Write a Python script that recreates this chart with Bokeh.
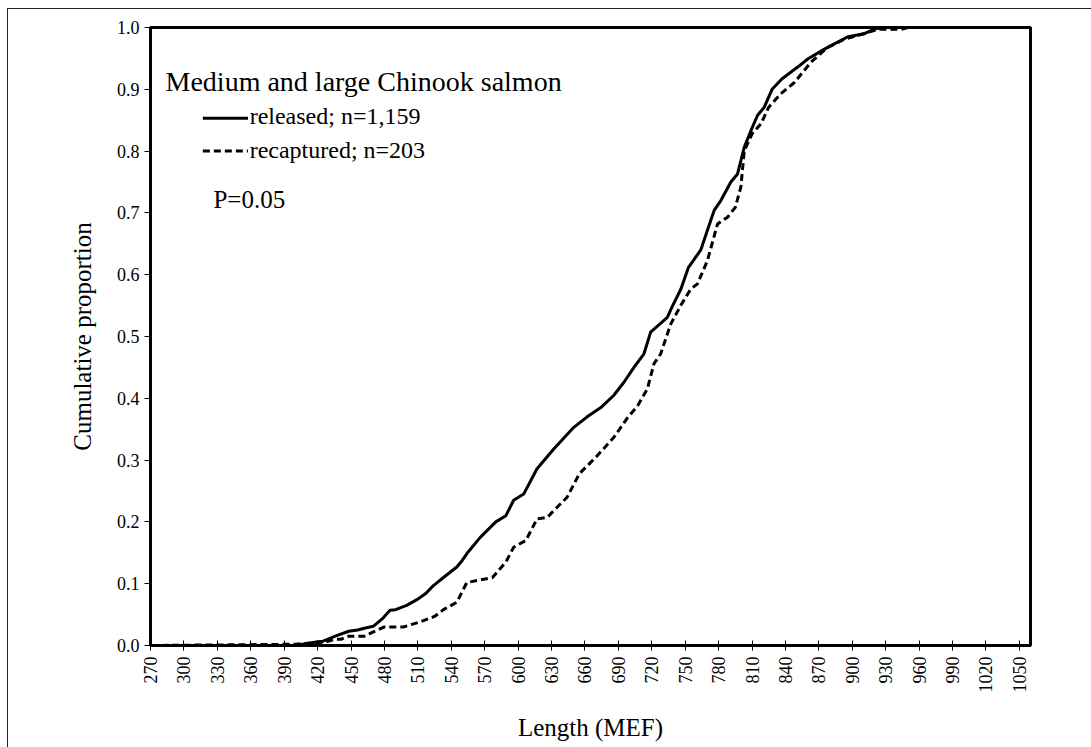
import math
from bokeh.plotting import figure
from bokeh.models import FixedTicker, PrintfTickFormatter, Label, Range1d
from bokeh.embed import file_html
from bokeh.resources import INLINE

# ---------------- data ----------------
released_len = [270, 398, 410, 420, 425, 437, 448, 456, 462, 470, 478, 485, 490, 500,
                510, 517, 524, 533, 545, 550, 555, 566, 580, 589, 596, 605, 617, 632,
                650, 662, 675, 686, 695, 704, 713, 719, 734, 738, 746, 753, 764, 773,
                776, 782, 791, 797, 803, 809, 815, 821, 828, 837, 851, 860, 875, 896,
                911, 920, 930, 960]
released_cum = [0.0, 0.0, 0.003, 0.006, 0.007, 0.016, 0.023, 0.025, 0.028, 0.031, 0.043,
                0.057, 0.058, 0.065, 0.075, 0.084, 0.097, 0.11, 0.127, 0.138, 0.151, 0.175,
                0.2, 0.21, 0.235, 0.245, 0.286, 0.318, 0.353, 0.37, 0.386, 0.405, 0.426,
                0.45, 0.472, 0.507, 0.531, 0.547, 0.576, 0.612, 0.64, 0.688, 0.704, 0.72,
                0.75, 0.763, 0.806, 0.833, 0.858, 0.871, 0.9, 0.917, 0.936, 0.949, 0.965,
                0.985, 0.99, 0.998, 1.0, 1.0]

recaptured_len = [270, 400, 420, 426, 435, 441, 448, 462, 470, 480, 497, 510, 525, 533,
                  545, 554, 566, 577, 589, 596, 607, 617, 626, 644, 655, 670, 686, 698,
                  707, 716, 722, 728, 737, 746, 755, 761, 770, 779, 788, 795, 800, 803,
                  810, 818, 825, 836, 848, 863, 878, 893, 914, 923, 944, 950, 960]
recaptured_cum = [0.0, 0.002, 0.005, 0.005, 0.01, 0.01, 0.015, 0.015, 0.022, 0.03, 0.03,
                  0.037, 0.047, 0.058, 0.07, 0.102, 0.106, 0.11, 0.135, 0.159, 0.17, 0.205,
                  0.207, 0.24, 0.278, 0.305, 0.337, 0.368, 0.387, 0.415, 0.456, 0.472,
                  0.52, 0.55, 0.577, 0.585, 0.623, 0.682, 0.693, 0.709, 0.742, 0.8, 0.828,
                  0.844, 0.871, 0.893, 0.911, 0.944, 0.968, 0.981, 0.992, 0.997, 0.997,
                  1.0, 1.0]

x_ticks = [270, 300, 330, 360, 390, 420, 450, 480, 510, 540, 570, 600, 630, 660, 690,
           720, 750, 780, 810, 840, 870, 900, 930, 960, 990, 1020, 1050]
y_ticks = [0.0, 0.1, 0.2, 0.3, 0.4, 0.5, 0.6, 0.7, 0.8, 0.9, 1.0]

title_text = "Medium and large Chinook salmon"
legend_labels = ["released; n=1,159", "recaptured; n=203"]
p_text = "P=0.05"
x_label = "Length (MEF)"
y_label = "Cumulative proportion"

assert len(released_len) == len(released_cum)
assert len(recaptured_len) == len(recaptured_cum)

FONT = "Liberation Serif"

p = figure(width=1084, height=739, output_backend="svg", toolbar_location=None,
           x_range=Range1d(270, 1060), y_range=Range1d(0, 1.0),
           min_border_left=142, min_border_top=18, min_border_right=62,
           min_border_bottom=103, margin=(8, 0, 0, 7),
           styles={"border-left": "1px solid #222", "border-top": "1px solid #222"})

p.xgrid.visible = False
p.ygrid.visible = False
p.outline_line_color = "black"
p.outline_line_width = 3
p.background_fill_color = "white"
p.border_fill_color = "white"

# axes
xa = p.xaxis[0]
xa.ticker = FixedTicker(ticks=x_ticks)
xa.major_label_orientation = math.pi / 2
xa.axis_line_width = 3
xa.axis_line_color = "black"
xa.major_tick_in = 5
xa.major_tick_out = 5
xa.major_tick_line_width = 1
xa.minor_tick_line_color = None
xa.major_label_text_font = FONT
xa.major_label_text_font_size = "18px"
xa.major_label_text_color = "black"
xa.major_label_standoff = 6
xa.axis_label = x_label
xa.axis_label_text_font = FONT
xa.axis_label_text_font_size = "25px"
xa.axis_label_text_font_style = "normal"
xa.axis_label_text_color = "black"
xa.axis_label_standoff = 18

ya = p.yaxis[0]
ya.ticker = FixedTicker(ticks=y_ticks)
ya.formatter = PrintfTickFormatter(format="%.1f")
ya.axis_line_width = 3
ya.axis_line_color = "black"
ya.major_tick_in = 0
ya.major_tick_out = 6
ya.major_tick_line_width = 1
ya.minor_tick_line_color = None
ya.major_label_text_font = FONT
ya.major_label_text_font_size = "18px"
ya.major_label_text_color = "black"
ya.major_label_standoff = 5
ya.axis_label = y_label
ya.axis_label_text_font = FONT
ya.axis_label_text_font_size = "25px"
ya.axis_label_text_font_style = "normal"
ya.axis_label_text_color = "black"
ya.axis_label_standoff = 18

# curves
p.line(released_len, released_cum, line_color="black", line_width=3)
p.line(recaptured_len, recaptured_cum, line_color="black", line_width=3,
       line_dash="7 4")

# legend-like annotation
p.add_layout(Label(x=283.5, y=0.913, text=title_text, text_font=FONT,
                   text_font_size="28px", text_baseline="middle", text_color="black"))
p.line([317, 357.5], [0.853, 0.853], line_color="black", line_width=3)
p.line([317, 357.5], [0.800, 0.800], line_color="black", line_width=3, line_dash="7 4")
p.add_layout(Label(x=359, y=0.856, text=legend_labels[0], text_font=FONT,
                   text_font_size="24px", text_baseline="middle", text_color="black"))
p.add_layout(Label(x=359, y=0.801, text=legend_labels[1], text_font=FONT,
                   text_font_size="24px", text_baseline="middle", text_color="black"))
p.add_layout(Label(x=326.5, y=0.722, text=p_text, text_font=FONT,
                   text_font_size="25px", text_baseline="middle", text_color="black"))

open("out.html", "w").write(file_html(p, INLINE))
